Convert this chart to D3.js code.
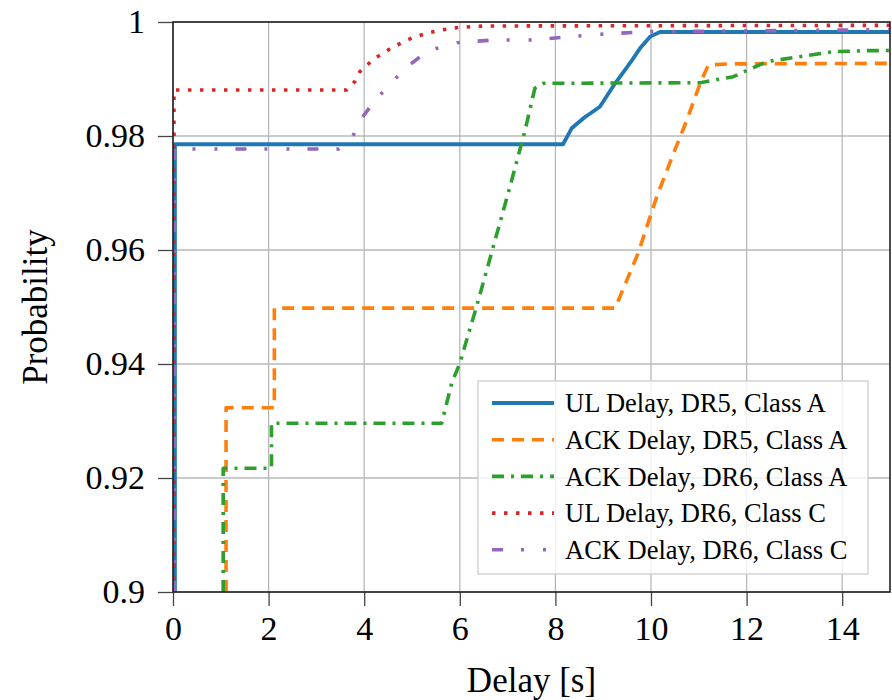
<!DOCTYPE html>
<html>
<head>
<meta charset="utf-8">
<script src="https://cdn.jsdelivr.net/npm/d3@7"></script>
<style>
  html, body { margin: 0; padding: 0; background: #fff; }
  svg { display: block; }
  text { font-family: "Liberation Serif", "Times New Roman", serif; fill: #000; }
</style>
</head>
<body>
<svg id="chart" width="892" height="700"></svg>
<script>
// ---------------- data ----------------
const xTicks = [0, 2, 4, 6, 8, 10, 12, 14];
const yTicks = [0.9, 0.92, 0.94, 0.96, 0.98, 1];
const yTickLabels = ["0.9", "0.92", "0.94", "0.96", "0.98", "1"];

const seriesNames = [
  "UL Delay, DR5, Class A",
  "ACK Delay, DR5, Class A",
  "ACK Delay, DR6, Class A",
  "UL Delay, DR6, Class C",
  "ACK Delay, DR6, Class C"
];

const ulDr5A_x = [0.04, 0.04, 8.16, 8.34, 8.6, 8.93, 9.25, 9.45, 9.63, 9.77, 9.98, 10.19, 15];
const ulDr5A_y = [0.9, 0.97855, 0.97855, 0.98135, 0.9832, 0.98514, 0.98924, 0.9915, 0.99363, 0.99538, 0.99743, 0.99825, 0.99825];

const ackDr5A_x = [1.11, 1.11, 2.12, 2.12, 9.25, 9.73, 10.12, 10.45, 10.75, 11.03, 11.2, 11.6, 15];
const ackDr5A_y = [0.9, 0.93233, 0.93233, 0.9498, 0.9498, 0.95942, 0.96935, 0.9765, 0.98281, 0.98924, 0.99246, 0.99265, 0.99275];

const ackDr6A_x = [1.05, 1.05, 2.06, 2.06, 5.62, 5.83, 6.0, 6.35, 6.7, 7.05, 7.33, 7.40, 7.57, 7.75, 11.03, 11.72, 12.42, 13.12, 13.81, 14.51, 15];
const ackDr6A_y = [0.9, 0.9217, 0.9217, 0.9296, 0.9296, 0.93661, 0.94012, 0.95005, 0.96058, 0.97111, 0.97988, 0.98222, 0.98837, 0.98924, 0.98935, 0.9904, 0.99304, 0.99392, 0.99479, 0.99497, 0.995];

const ulDr6C_x = [0.02, 0.02, 3.63, 3.8, 3.91, 4.2, 4.61, 5.0, 5.31, 5.6, 6.0, 6.5, 15];
const ulDr6C_y = [0.9, 0.98807, 0.98807, 0.9895, 0.99128, 0.9935, 0.99567, 0.9972, 0.99801, 0.9986, 0.99906, 0.9993, 0.99942];

const ackDr6C_x = [0.03, 0.03, 3.46, 3.74, 3.95, 4.23, 4.5, 4.82, 5.17, 5.52, 5.94, 6.7, 7.47, 8.93, 9.91, 15];
const ackDr6C_y = [0.9, 0.97772, 0.97772, 0.9796, 0.98311, 0.98632, 0.98865, 0.99158, 0.99392, 0.99538, 0.99637, 0.99684, 0.99684, 0.99784, 0.9983, 0.99865];

const seriesX = [ulDr5A_x, ackDr5A_x, ackDr6A_x, ulDr6C_x, ackDr6C_x];
const seriesY = [ulDr5A_y, ackDr5A_y, ackDr6A_y, ulDr6C_y, ackDr6C_y];

// ---------------- styles ----------------
const colors = ["#1f77b4", "#ff7f0e", "#2ca02c", "#d62728", "#9467bd"];
const dashes = [null, "12,8", "12,7,3,7", "3.5,8.5", "11,18,3,19,3,18"];
const widths = [3.8, 3.6, 3.6, 3.6, 3.6];

const margin = { left: 173, right: 2, top: 22, bottom: 108 };
const W = 892, H = 700;

const svg = d3.select("#chart");
const x = d3.scaleLinear().domain([0, 15]).range([margin.left, W - margin.right]);
const y = d3.scaleLinear().domain([0.9, 1]).range([H - margin.bottom, margin.top]);

// grid
const grid = svg.append("g");
grid.selectAll("line.vg").data(xTicks).join("line")
  .attr("x1", d => x(d)).attr("x2", d => x(d))
  .attr("y1", y(0.9)).attr("y2", y(1))
  .attr("stroke", "#b8b8b8").attr("stroke-width", 1.3);
grid.selectAll("line.hg").data(yTicks).join("line")
  .attr("x1", x(0)).attr("x2", x(15))
  .attr("y1", d => y(d)).attr("y2", d => y(d))
  .attr("stroke", "#b8b8b8").attr("stroke-width", 1.3);

// clip
svg.append("clipPath").attr("id", "clip").append("rect")
  .attr("x", x(0)).attr("y", y(1) - 3).attr("width", x(15) - x(0)).attr("height", y(0.9) - y(1) + 3);

const line = d3.line().x(d => x(d[0])).y(d => y(d[1]));
const lines = svg.append("g").attr("clip-path", "url(#clip)");
seriesX.forEach((xs, i) => {
  const pts = xs.map((v, j) => [v, seriesY[i][j]]);
  lines.append("path")
    .attr("d", line(pts))
    .attr("fill", "none")
    .attr("stroke", colors[i])
    .attr("stroke-width", widths[i])
    .attr("stroke-dasharray", dashes[i])
    .attr("stroke-linejoin", "round");
});

// axes
const xAxis = d3.axisBottom(x).tickValues(xTicks).tickSize(14).tickPadding(10).tickFormat(d3.format("d"));
const gx = svg.append("g").attr("transform", `translate(0,${y(0.9)})`).call(xAxis);
gx.select(".domain").remove();
gx.selectAll(".tick line").attr("stroke", "#444").attr("stroke-width", 1.3);
gx.selectAll(".tick text").attr("font-size", 34).attr("font-family", "Liberation Serif").attr("dy", "0.72em");

const yAxis = d3.axisLeft(y).tickValues(yTicks).tickSize(15).tickPadding(13)
  .tickFormat((d, i) => yTickLabels[i]);
const gy = svg.append("g").attr("transform", `translate(${x(0)},0)`).call(yAxis);
gy.select(".domain").remove();
gy.selectAll(".tick line").attr("stroke", "#444").attr("stroke-width", 1.3);
gy.selectAll(".tick text").attr("font-size", 34).attr("font-family", "Liberation Serif");

// frame
svg.append("rect")
  .attr("x", x(0)).attr("y", y(1)).attr("width", x(15) - x(0)).attr("height", y(0.9) - y(1))
  .attr("fill", "none").attr("stroke", "#222").attr("stroke-width", 1.6);

// axis titles
svg.append("text").attr("x", (x(0) + x(15)) / 2).attr("y", 692)
  .attr("text-anchor", "middle").attr("font-size", 35).text("Delay [s]");
svg.append("text").attr("transform", `translate(47,${(y(0.9) + y(1)) / 2}) rotate(-90)`)
  .attr("text-anchor", "middle").attr("font-size", 35).text("Probability");

// legend
const lg = svg.append("g");
lg.append("rect").attr("x", 478).attr("y", 381).attr("width", 390).attr("height", 193)
  .attr("fill", "#fff").attr("fill-opacity", 0.8).attr("stroke", "#cccccc").attr("stroke-width", 1.3);
seriesNames.forEach((name, i) => {
  const cy = 403 + i * 36.7;
  lg.append("line").attr("x1", 492).attr("x2", 554).attr("y1", cy).attr("y2", cy)
    .attr("stroke", colors[i]).attr("stroke-width", widths[i]).attr("stroke-dasharray", dashes[i]);
  lg.append("text").attr("x", 565).attr("y", cy).attr("dy", "0.35em")
    .attr("font-size", 26.5).text(name);
});
</script>
</body>
</html>
